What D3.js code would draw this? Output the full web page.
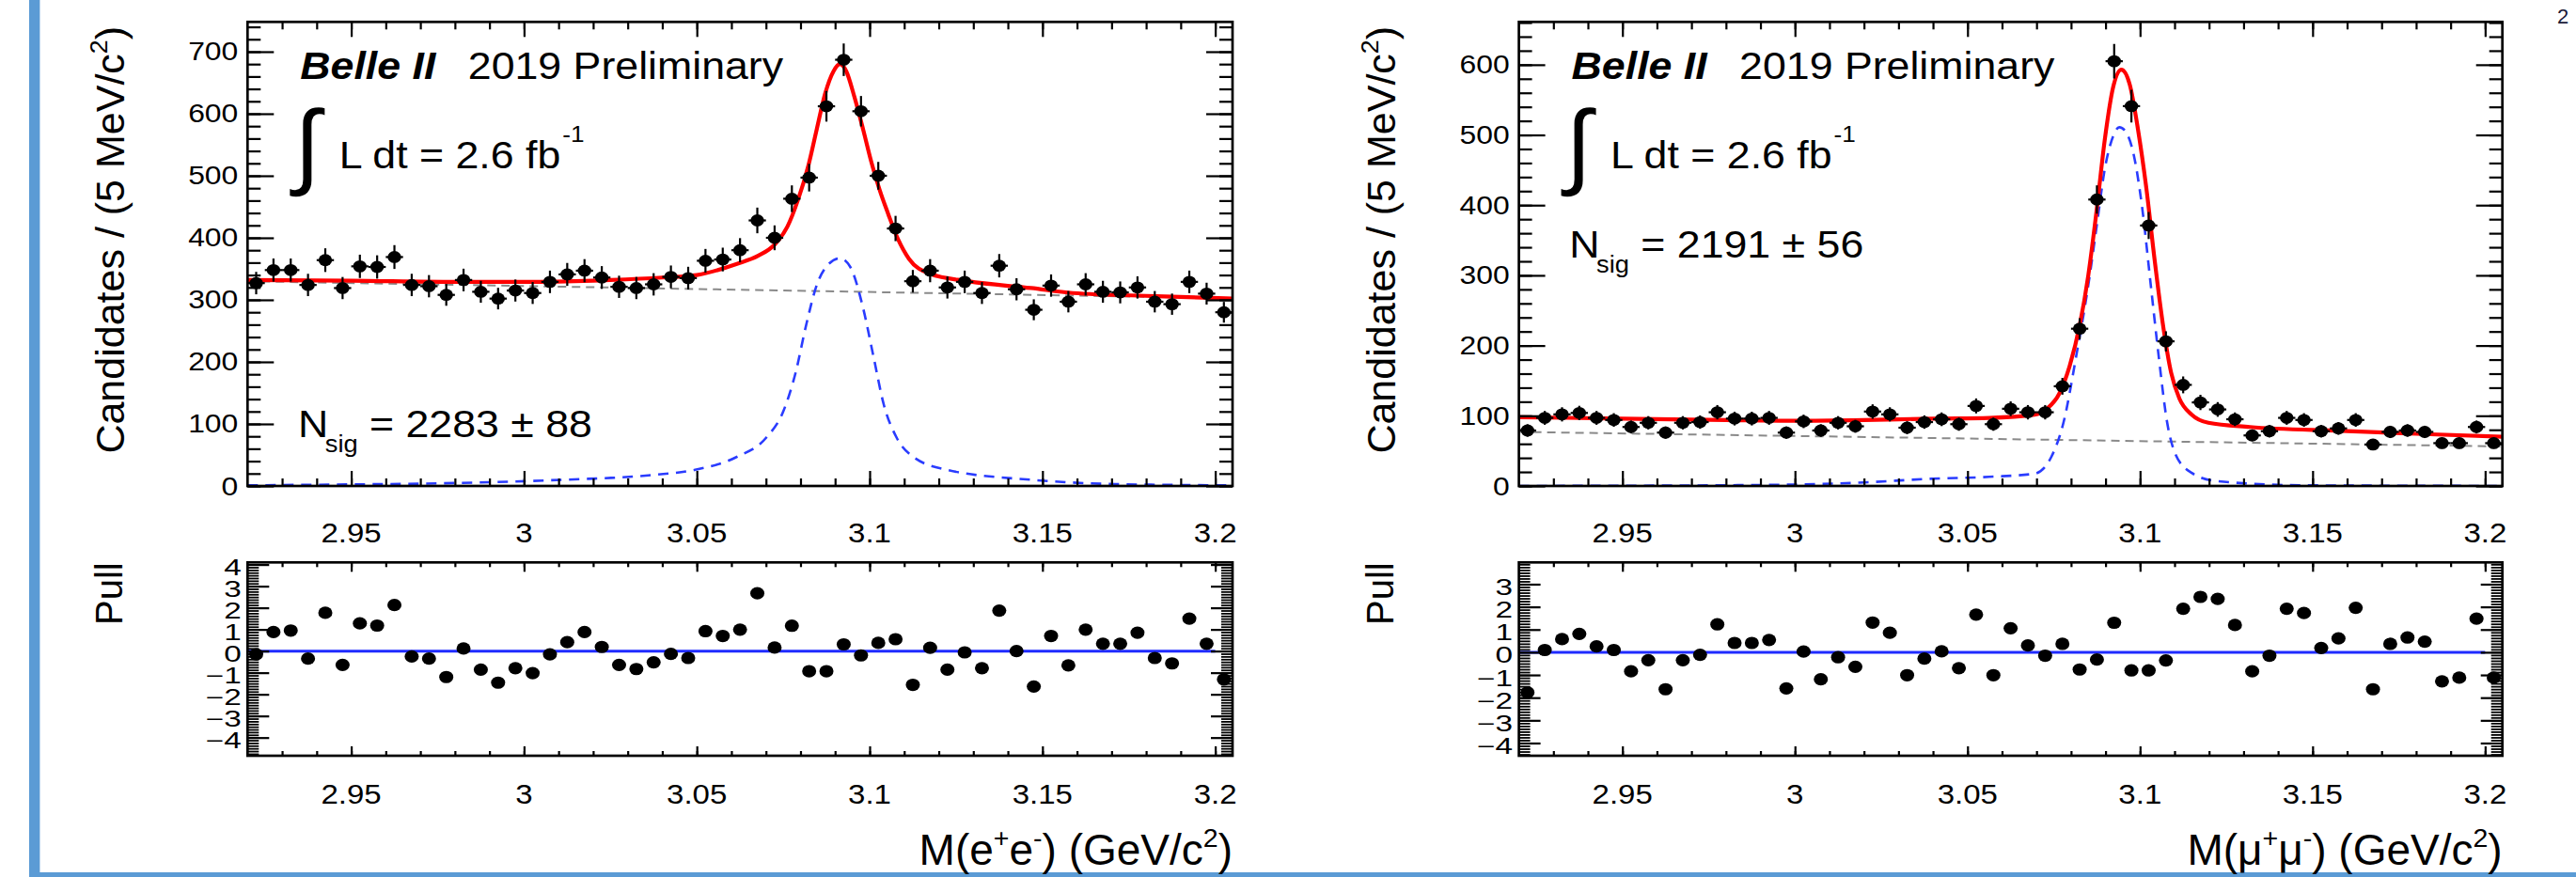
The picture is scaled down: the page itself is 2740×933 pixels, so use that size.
<!DOCTYPE html>
<html>
<head>
<meta charset="utf-8">
<script src="https://cdn.jsdelivr.net/npm/d3@7"></script>
<style>
  html, body { margin: 0; padding: 0; background: #fff; }
  svg { display: block; }
  text { font-family: "Liberation Sans", Arial, Helvetica, sans-serif; fill: #000; }
</style>
</head>
<body>
<svg id="chart" width="2740" height="933"></svg>
<script>
// ---------------- binning ----------------
const MASS_LOW = 2.92, MASS_HIGH = 3.205, BIN_WIDTH = 0.005;
const binCenters = d3.range(57).map(i => MASS_LOW + BIN_WIDTH * (i + 0.5));

// ---------------- axis ticks ----------------
const massTicks = [2.95, 3.0, 3.05, 3.1, 3.15, 3.2];
const massTickLabels = ["2.95", "3", "3.05", "3.1", "3.15", "3.2"];
const eeCountTicks = [0, 100, 200, 300, 400, 500, 600, 700];
const mmCountTicks = [0, 100, 200, 300, 400, 500, 600];
const eePullTicks = [-4, -3, -2, -1, 0, 1, 2, 3, 4];
const mmPullTicks = [-4, -3, -2, -1, 0, 1, 2, 3];

// ---------------- J/psi -> e+e- ----------------
const eeCounts = [327, 348, 348, 324, 364, 319, 354, 353, 369, 324,
                  322, 308, 332, 313, 302, 315, 311, 329, 341, 347,
                  336, 321, 319, 325, 337, 335, 363, 365, 380, 428,
                  400, 463, 497, 612, 687, 604, 500, 415, 330, 347,
                  320, 329, 311, 355, 317, 284, 323, 297, 325, 313,
                  312, 320, 297, 293, 329, 310, 280];
const eePull = [-0.15, 0.88, 0.95, -0.35, 1.77, -0.64, 1.28, 1.18, 2.13, -0.25,
                -0.35, -1.2, 0.12, -0.86, -1.46, -0.79, -1.02, -0.15, 0.41, 0.88,
                0.19, -0.64, -0.83, -0.52, -0.13, -0.32, 0.92, 0.7, 0.99, 2.67,
                0.16, 1.17, -0.93, -0.93, 0.31, -0.2, 0.38, 0.55, -1.56, 0.15,
                -0.86, -0.06, -0.79, 1.87, 0, -1.64, 0.7, -0.66, 0.99, 0.34,
                0.34, 0.85, -0.32, -0.57, 1.5, 0.34, -1.31];
const eeTotalMass = [2.92, 2.95, 2.98, 3.0, 3.02, 3.025, 3.04, 3.05, 3.0616, 3.0677, 3.0725,
                     3.0762, 3.0792, 3.0823, 3.0847, 3.0871, 3.0896, 3.0914, 3.0932, 3.0956,
                     3.0981, 3.1005, 3.1029, 3.1054, 3.1078, 3.1114, 3.1175, 3.1284, 3.1467,
                     3.1588, 3.1831, 3.205];
const eeTotalFit = [332, 331, 329, 329, 331, 332, 336, 340, 358, 371, 389,
                    418, 460, 517, 575, 632, 669, 680, 669, 627,
                    575, 522, 477, 438, 403, 366, 342, 330, 319,
                    311, 306, 302];
const eeSignalMass = [2.92, 2.95, 2.97, 2.99, 3.0184, 3.0252, 3.0378, 3.0495, 3.0616, 3.0701,
                      3.075, 3.0786, 3.0817, 3.0847, 3.0877, 3.0914, 3.0944, 3.0981, 3.1011,
                      3.1041, 3.1078, 3.1126, 3.1224, 3.1467, 3.171, 3.205];
const eeSignalFit = [1, 2.5, 3.7, 6, 11.5, 13, 18, 26, 47, 78,
                     120, 183, 261, 324, 355, 367, 353, 287, 209,
                     131, 78, 47, 26, 10, 3, 1];
const eeBkgMass = [2.92, 3.205];
const eeBkgFit = [330, 302.5];

// ---------------- J/psi -> mu+mu- ----------------
const mmCounts = [79, 97, 102, 104, 97, 94, 84, 90, 76, 90,
                  91, 105, 96, 96, 97, 76, 92, 79, 90, 85,
                  106, 102, 83, 91, 95, 88, 114, 88, 110, 105,
                  105, 142, 224, 408, 605, 541, 371, 206, 144, 119,
                  109, 95, 72, 78, 97, 94, 78, 82, 94, 59,
                  77, 79, 77, 61, 61, 84, 61];
const mmPull = [-1.77, 0.1, 0.58, 0.81, 0.26, 0.1, -0.84, -0.35, -1.63, -0.35,
                -0.11, 1.23, 0.41, 0.41, 0.54, -1.59, 0.03, -1.19, -0.22, -0.64,
                1.31, 0.86, -1.01, -0.28, 0.04, -0.7, 1.66, -1.01, 1.06, 0.3,
                -0.15, 0.37, -0.76, -0.32, 1.3, -0.8, -0.8, -0.36, 1.92, 2.44,
                2.35, 1.2, -0.84, -0.15, 1.92, 1.73, 0.19, 0.61, 1.96, -1.63,
                0.37, 0.65, 0.47, -1.28, -1.12, 1.48, -1.12];
const mmTotalMass = [2.92, 2.95, 2.98, 3.0, 3.02, 3.04, 3.0563, 3.0694, 3.073, 3.0766,
                     3.0796, 3.0826, 3.085, 3.0874, 3.0898, 3.0922, 3.0946, 3.097, 3.0994,
                     3.1018, 3.1042, 3.1066, 3.109, 3.1114, 3.115, 3.1198, 3.1318, 3.1582,
                     3.1822, 3.205];
const mmTotalFit = [98, 96, 94, 93, 94, 96, 97, 101.5, 110, 131.5,
                    171, 231, 300, 392, 494, 568, 593, 572, 508,
                    425, 323, 231, 161.5, 124.6, 101.5, 90, 84, 78.5,
                    74, 70];
const mmSignalMass = [2.92, 2.98, 3.0, 3.02, 3.0383, 3.0563, 3.0694, 3.0743, 3.0779, 3.0815,
                      3.085, 3.0874, 3.0898, 3.0922, 3.094, 3.0958, 3.0982, 3.1006, 3.103,
                      3.1054, 3.1078, 3.1102, 3.115, 3.1222, 3.1462, 3.205];
const mmSignalFit = [0, 1, 2, 5, 10, 13, 17.5, 41.5, 92, 185,
                     286, 369, 452, 498, 511, 505, 471, 397, 291,
                     185, 92, 46, 18.5, 7, 1, 0];
const mmBkgMass = [2.92, 3.205];
const mmBkgFit = [77, 56.3];

const pullLineMass = [2.92, 3.2];

// ---------------- layout ----------------
const FRAME_TOP = 23.3, FRAME_BOTTOM = 517;
const PULL_TOP = 598.3, PULL_BOTTOM = 804;
const TEXT_SX = 1.09;

const svg = d3.select("#chart");
svg.append("rect").attr("width", 2740).attr("height", 933).attr("fill", "#fff");

// slide frame decoration
svg.append("rect").attr("x", 31).attr("y", 0).attr("width", 11.4).attr("height", 933).attr("fill", "#5b9bd5");
svg.append("rect").attr("x", 31).attr("y", 928).attr("width", 2709).attr("height", 5).attr("fill", "#5b9bd5");

// text helper: parts may carry sup/sub flags, whole text can be stretched horizontally
function addText(parent, x, y, o) {
  const tf = `translate(${x},${y})` + (o.rotate ? ` rotate(${o.rotate})` : "") + ` scale(${o.sx || 1},1)`;
  const g = parent.append("g").attr("transform", tf);
  const t = g.append("text").attr("font-size", o.size).attr("text-anchor", o.anchor || "start");
  if (o.weight) t.attr("font-weight", o.weight);
  if (o.italic) t.attr("font-style", "italic");
  if (o.family) t.attr("font-family", o.family);
  if (o.fill) t.style("fill", o.fill);
  const parts = typeof o.text === "string" ? [{ t: o.text }] : o.text;
  let shift = 0;
  parts.forEach(p => {
    const target = p.sup ? -o.size * 0.42 : (p.sub ? o.size * 0.3 : 0);
    const ts = t.append("tspan").text(p.t).attr("dy", target - shift);
    if (p.sup || p.sub) ts.attr("font-size", o.size * 0.62);
    shift = target;
  });
  return t;
}

function tickAxis(parent, axisFn, scale, values, size, transform, width) {
  parent.append("g").attr("transform", transform)
    .call(axisFn(scale).tickValues(values).tickSize(size).tickFormat(""))
    .call(s => {
      s.select(".domain").remove();
      s.selectAll("text").remove();
      s.selectAll("line").attr("stroke", "#000").attr("stroke-width", width || 2.2);
    });
}

function drawPanel(p) {
  const x = d3.scaleLinear().domain([MASS_LOW, MASS_HIGH]).range([p.left, p.right]);
  const y = d3.scaleLinear().domain([0, p.countMax]).range([FRAME_BOTTOM, FRAME_TOP]);
  const yp = d3.scaleLinear().domain(p.pullDomain).range([PULL_BOTTOM, PULL_TOP]);
  const g = svg.append("g");
  const L = p.left, R = p.right;

  // ---------- fit components ----------
  const clipId = "clip-" + p.id;
  svg.append("clipPath").attr("id", clipId).append("rect")
    .attr("x", L).attr("y", FRAME_TOP).attr("width", R - L).attr("height", FRAME_BOTTOM - FRAME_TOP);
  const plot = g.append("g").attr("clip-path", `url(#${clipId})`);
  const line = d3.line().x(d => x(d[0])).y(d => y(d[1])).curve(d3.curveMonotoneX);

  plot.append("path").datum(d3.zip(p.bkgMass, p.bkgFit)).attr("d", line)
    .attr("fill", "none").attr("stroke", "#8a8a8a").attr("stroke-width", 2).attr("stroke-dasharray", "9,6");
  plot.append("path").datum(d3.zip(p.sigMass, p.sigFit)).attr("d", line)
    .attr("fill", "none").attr("stroke", "#2a3cff").attr("stroke-width", 2.6).attr("stroke-dasharray", "11,8");
  plot.append("path").datum(d3.zip(p.totMass, p.totFit)).attr("d", line)
    .attr("fill", "none").attr("stroke", "#ff0000").attr("stroke-width", 4.2);

  // ---------- data points ----------
  const pts = binCenters.map((m, i) => ({ m, n: p.counts[i] }));
  const dg = g.append("g");
  dg.selectAll("line.ev").data(pts).join("line").attr("class", "ev")
    .attr("x1", d => x(d.m)).attr("x2", d => x(d.m))
    .attr("y1", d => y(d.n - Math.sqrt(d.n))).attr("y2", d => y(d.n + Math.sqrt(d.n)))
    .attr("stroke", "#000").attr("stroke-width", 2.2);
  dg.selectAll("line.eh").data(pts).join("line").attr("class", "eh")
    .attr("x1", d => x(d.m - BIN_WIDTH / 2)).attr("x2", d => x(d.m + BIN_WIDTH / 2))
    .attr("y1", d => y(d.n)).attr("y2", d => y(d.n))
    .attr("stroke", "#000").attr("stroke-width", 2.2);
  dg.selectAll("ellipse").data(pts).join("ellipse")
    .attr("cx", d => x(d.m)).attr("cy", d => y(d.n)).attr("rx", 7.2).attr("ry", 6.4).attr("fill", "#000");

  // ---------- pull points ----------
  const pg = g.append("g");
  pg.append("line")
    .attr("x1", x(pullLineMass[0])).attr("x2", x(pullLineMass[1]))
    .attr("y1", yp(0)).attr("y2", yp(0))
    .attr("stroke", "#1f2bff").attr("stroke-width", 3);
  pg.selectAll("ellipse").data(binCenters.map((m, i) => ({ m, v: p.pulls[i] }))).join("ellipse")
    .attr("cx", d => x(d.m)).attr("cy", d => yp(d.v)).attr("rx", 7.5).attr("ry", 6.6).attr("fill", "#000");

  // ---------- ticks ----------
  const xMinor = d3.range(2.93, 3.2005, 0.01);
  const cMinor = d3.range(0, p.countMax, 20);
  const pMinor = d3.range(Math.ceil(p.pullDomain[0] / 0.125) * 0.125, p.pullDomain[1], 0.125);

  tickAxis(g, d3.axisBottom, x, xMinor, -8, `translate(0,${FRAME_BOTTOM})`);
  tickAxis(g, d3.axisBottom, x, massTicks, -16, `translate(0,${FRAME_BOTTOM})`);
  tickAxis(g, d3.axisTop, x, xMinor, -8, `translate(0,${FRAME_TOP})`);
  tickAxis(g, d3.axisTop, x, massTicks, -16, `translate(0,${FRAME_TOP})`);
  tickAxis(g, d3.axisLeft, y, cMinor, -14, `translate(${L},0)`);
  tickAxis(g, d3.axisLeft, y, p.countTicks, -28, `translate(${L},0)`);
  tickAxis(g, d3.axisRight, y, cMinor, -14, `translate(${R},0)`);
  tickAxis(g, d3.axisRight, y, p.countTicks, -28, `translate(${R},0)`);

  tickAxis(g, d3.axisBottom, x, xMinor, -5, `translate(0,${PULL_BOTTOM})`);
  tickAxis(g, d3.axisBottom, x, massTicks, -10, `translate(0,${PULL_BOTTOM})`);
  tickAxis(g, d3.axisTop, x, xMinor, -5, `translate(0,${PULL_TOP})`);
  tickAxis(g, d3.axisTop, x, massTicks, -10, `translate(0,${PULL_TOP})`);
  tickAxis(g, d3.axisLeft, yp, pMinor, -12, `translate(${L},0)`, 1.8);
  tickAxis(g, d3.axisLeft, yp, p.pullTicks, -23, `translate(${L},0)`);
  tickAxis(g, d3.axisRight, yp, pMinor, -12, `translate(${R},0)`, 1.8);
  tickAxis(g, d3.axisRight, yp, p.pullTicks, -23, `translate(${R},0)`);

  // ---------- frames ----------
  g.append("rect").attr("x", L).attr("y", FRAME_TOP).attr("width", R - L).attr("height", FRAME_BOTTOM - FRAME_TOP)
    .attr("fill", "none").attr("stroke", "#000").attr("stroke-width", 2.7);
  g.append("rect").attr("x", L).attr("y", PULL_TOP).attr("width", R - L).attr("height", PULL_BOTTOM - PULL_TOP)
    .attr("fill", "none").attr("stroke", "#000").attr("stroke-width", 2.7);

  // ---------- tick labels ----------
  massTicks.forEach((v, i) => {
    addText(g, x(v), 576.7, { text: massTickLabels[i], size: 30, sx: 1.1, anchor: "middle" });
    addText(g, x(v), 855, { text: massTickLabels[i], size: 30, sx: 1.1, anchor: "middle" });
  });
  p.countTicks.forEach(v => {
    addText(g, L - 10, y(v) + 9.5, { text: String(v), size: 27, sx: 1.18, anchor: "end" });
  });
  p.pullTicks.forEach(v => {
    addText(g, L - 6.6, yp(v) + 11.5, { text: v < 0 ? "\u2212" + Math.abs(v) : String(v), size: 23, sx: 1.45, anchor: "end" });
  });

  // ---------- axis titles ----------
  addText(g, L - 131.3, 28, { text: [{ t: "Candidates / (5 MeV/c" }, { t: "2", sup: true }, { t: ")" }],
    size: 43, rotate: -90, anchor: "end" });
  addText(g, L - 133.8, PULL_TOP, { text: "Pull", size: 40, rotate: -90, anchor: "end" });
  addText(g, R, 920, { text: p.xTitle, size: 46, anchor: "end" });

  // ---------- annotations ----------
  addText(g, L + 56, 84, { text: "Belle II", size: 41, sx: TEXT_SX, weight: "bold", italic: true });
  addText(g, L + 234.5, 84, { text: "2019 Preliminary", size: 41, sx: TEXT_SX });
  addText(g, L + 50, 188, { text: "\u222B", size: 100, family: "DejaVu Sans" });
  addText(g, L + 97.4, 179, { text: "L dt = 2.6 fb", size: 41, sx: TEXT_SX });
  addText(g, L + 335, 151, { text: "-1", size: 24, sx: TEXT_SX });
  addText(g, L + 53.7, p.nsigY, { text: "N", size: 41, sx: TEXT_SX });
  addText(g, L + 82.5, p.nsigY + 15.5, { text: "sig", size: 25, sx: TEXT_SX });
  addText(g, L + 129.7, p.nsigY, { text: p.nsigText, size: 41, sx: TEXT_SX });
}

drawPanel({
  id: "ee", left: 263.3, right: 1311,
  countMax: 748, countTicks: eeCountTicks,
  pullDomain: [-4.84, 4.1], pullTicks: eePullTicks,
  counts: eeCounts, pulls: eePull,
  totMass: eeTotalMass, totFit: eeTotalFit,
  sigMass: eeSignalMass, sigFit: eeSignalFit,
  bkgMass: eeBkgMass, bkgFit: eeBkgFit,
  xTitle: [{ t: "M(e" }, { t: "+", sup: true }, { t: "e" }, { t: "-", sup: true }, { t: ") (GeV/c" }, { t: "2", sup: true }, { t: ")" }],
  nsigY: 465, nsigText: "= 2283 \u00B1 88"
});

drawPanel({
  id: "mm", left: 1615.6, right: 2661.7,
  countMax: 661, countTicks: mmCountTicks,
  pullDomain: [-4.56, 3.96], pullTicks: mmPullTicks,
  counts: mmCounts, pulls: mmPull,
  totMass: mmTotalMass, totFit: mmTotalFit,
  sigMass: mmSignalMass, sigFit: mmSignalFit,
  bkgMass: mmBkgMass, bkgFit: mmBkgFit,
  xTitle: [{ t: "M(\u03BC" }, { t: "+", sup: true }, { t: "\u03BC" }, { t: "-", sup: true }, { t: ") (GeV/c" }, { t: "2", sup: true }, { t: ")" }],
  nsigY: 274, nsigText: "= 2191 \u00B1 56"
});

// fragment of neighbouring slide content in the corner
addText(svg, 2720, 25, { text: "2", size: 22, fill: "#1b1b3a" });
</script>
</body>
</html>
